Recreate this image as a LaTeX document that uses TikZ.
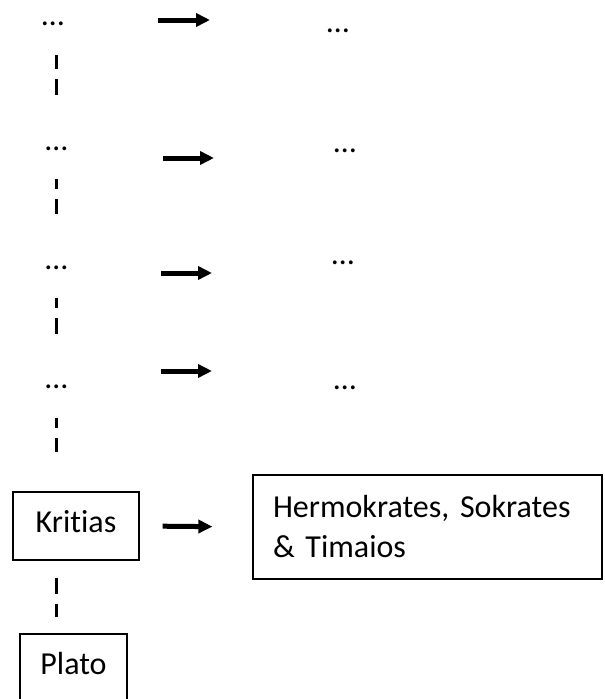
\documentclass[tikz,border=0pt]{standalone}
\usepackage{fontspec}
\setmainfont[Ligatures=NoCommon]{Carlito}
\usetikzlibrary{arrows.meta,positioning}
\tikzset{
  person/.style={
      draw,
      line width=1.2pt,
      minimum width=#1,
      minimum height=68pt,
      text height=13pt,
      text depth=0pt,
      font=\fontsize{32}{40}\selectfont,
  },
  person/.default=126pt,
  gruppe/.style={
      draw,
      line width=1.2pt,
      minimum width=349pt,
      minimum height=104pt,
      text width=309pt,
      inner xsep=20pt,
      align=left,
      font=\fontsize{32}{40}\selectfont,
  },
  luecke/.style={
      inner sep=0pt,
      anchor=base,
      text height=3pt,
      text depth=0pt,
      font=\fontsize{32}{40}\selectfont,
  },
  folge/.style={
      line width=5pt,
      -{Triangle[length=14pt,width=13pt]},
  },
  linie/.style={
      line width=3.2pt,
      dash pattern=on 16pt off 10pt,
      dash phase=6pt,
  },
}

\begin{document}
\begin{tikzpicture}[x=1pt,y=-1pt]
  \useasboundingbox (0,0) rectangle (605,699);

  % unbekannte Vorgaenger
  \node[luecke](l1) at (53,25.5) {…};
  \node[luecke](r1) at (338,32.5) {…};
  \node[luecke](l2) at (56.5,150.5) {…};
  \node[luecke](r2) at (345,152.5) {…};
  \node[luecke](l3) at (56.5,269.5) {…};
  \node[luecke](r3) at (343,264.5) {…};
  \node[luecke](l4) at (56.5,388.5) {…};
  \node[luecke](r4) at (345,389.5) {…};

  \node[person](kritias) at (76,526) {Kritias};
  \node[gruppe](hermo) at (427.5,527) {Hermokrates, Sokrates\\\& Timaios};
  \node[person=107pt](plato) at (73.5,668) {Plato};

  \coordinate (a1) at (158,20);  \coordinate (b1) at (210,20);
  \coordinate (a2) at (163,158); \coordinate (b2) at (214,158);
  \coordinate (a3) at (161,273); \coordinate (b3) at (212,273);
  \coordinate (a4) at (161,371); \coordinate (b4) at (212,371);

  \draw[folge] (a1) -- (b1);
  \draw[folge] (a2) -- (b2);
  \draw[folge] (a3) -- (b3);
  \draw[folge] (a4) -- (b4);
  \draw[folge, shorten <=23pt, shorten >=40pt] (kritias.east) -- (hermo.west);

  % Ueberlieferung nach unten
  \draw[linie, dash phase=2pt, shorten <=29.5pt, shorten >=51.5pt] (l1.south -| l2) -- (l2.north);
  \draw[linie, shorten <=28.5pt, shorten >=52.5pt] (l2.south) -- (l3.north);
  \draw[linie, shorten <=28.5pt, shorten >=51.5pt] (l3.south) -- (l4.north);
  \draw[linie, shorten <=29.5pt, shorten >=39pt] (l4.south) -- (kritias.north -| l4);
  \draw[linie, dash phase=0pt, shorten <=17pt, shorten >=16pt] (kritias.south -| l4) -- (plato.north -| l4);
%   \draw[linie] (plato.south) -- ++(0,20);
\end{tikzpicture}
\end{document}
